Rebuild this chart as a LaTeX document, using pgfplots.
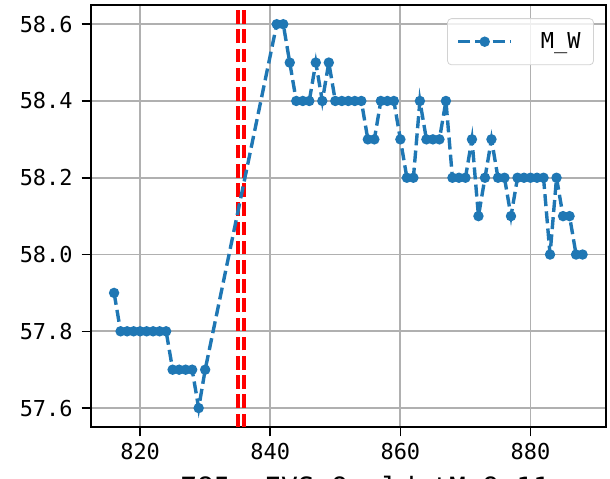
\documentclass[border=0pt]{standalone}
\usepackage{pgfplots}
\pgfplotsset{compat=1.18}
\usepackage{fontspec}
\setmainfont{DejaVu Sans Mono}
\definecolor{mplblue}{HTML}{1F77B4}
\definecolor{gridgray}{HTML}{B0B0B0}
\begin{document}
\begin{tikzpicture}
\begin{axis}[
  scale only axis,
  width=257.5bp, height=211bp,
  xmin=812.4, xmax=891.6, ymin=57.55, ymax=58.65,
  xtick={820,840,860,880},
  ytick={57.6,57.8,58.0,58.2,58.4,58.6},
  /pgf/number format/assume math mode=true,
  yticklabel style={xshift=-1bp, /pgf/number format/.cd, fixed, fixed zerofill, precision=1},
  xticklabel style={/pgf/number format/.cd, 1000 sep={}},
  tick label style={font=\fontsize{11}{13}\selectfont},
  grid=major,
  major grid style={gridgray, line width=0.9bp},
  tick align=outside, tick pos=left, major tick length=4.5bp,
  every tick/.style={black, line width=0.8bp},
  axis line style={line width=1bp},
  xlabel={\_\_785\_\_EVS\_9\_\_ld\_tM\_9\_11},
  xlabel style={font=\fontsize{14}{16}\selectfont, at={(axis description cs:0.5,0)}, anchor=base, yshift=-35bp},
  legend style={at={(rel axis cs:1,1)}, anchor=north east, xshift=-6bp, yshift=-6.6bp,
    draw=gray!35, rounded corners=2bp, fill=white, fill opacity=0.8, text opacity=1,
    font=\fontsize{11}{13}\selectfont, inner xsep=4.5bp, inner ysep=4.8bp,
    nodes={inner sep=2bp}},
  legend image code/.code={
    \draw[#1] (0bp,0bp) -- (26.5bp,0bp);
    \draw[#1] plot coordinates {(13.25bp,0bp)};
  },
]
\coordinate (sw) at (rel axis cs:0,0);
\coordinate (ne) at (rel axis cs:1,1);
\addplot[red, line width=2bp, dash pattern=on 6.8bp off 2.8bp, forget plot] coordinates {(835,57.55) (835,58.65)};
\addplot[red, line width=2bp, dash pattern=on 6.8bp off 2.8bp, forget plot] coordinates {(836,57.55) (836,58.65)};
\addplot[mplblue, line width=1.7bp, dash pattern=on 6bp off 2.6bp, mark=*, mark size=1.7bp, mark options={solid}] table {
x y
816 57.9
817 57.8
818 57.8
819 57.8
820 57.8
821 57.8
822 57.8
823 57.8
824 57.8
825 57.7
826 57.7
827 57.7
828 57.7
829 57.6
830 57.7
841 58.6
842 58.6
843 58.5
844 58.4
845 58.4
846 58.4
847 58.5
848 58.4
849 58.5
850 58.4
851 58.4
852 58.4
853 58.4
854 58.4
855 58.3
856 58.3
857 58.4
858 58.4
859 58.4
860 58.3
861 58.2
862 58.2
863 58.4
864 58.3
865 58.3
866 58.3
867 58.4
868 58.2
869 58.2
870 58.2
871 58.3
872 58.1
873 58.2
874 58.3
875 58.2
876 58.2
877 58.1
878 58.2
879 58.2
880 58.2
881 58.2
882 58.2
883 58.0
884 58.2
885 58.1
886 58.1
887 58.0
888 58.0
};
\addlegendentry{\hspace{12bp}M\_W}
\end{axis}
\pgfresetboundingbox
\path ([shift={(-45.3bp,-25.5bp)}]sw) rectangle ([shift={(2bp,2.5bp)}]ne);
\end{tikzpicture}
\end{document}
